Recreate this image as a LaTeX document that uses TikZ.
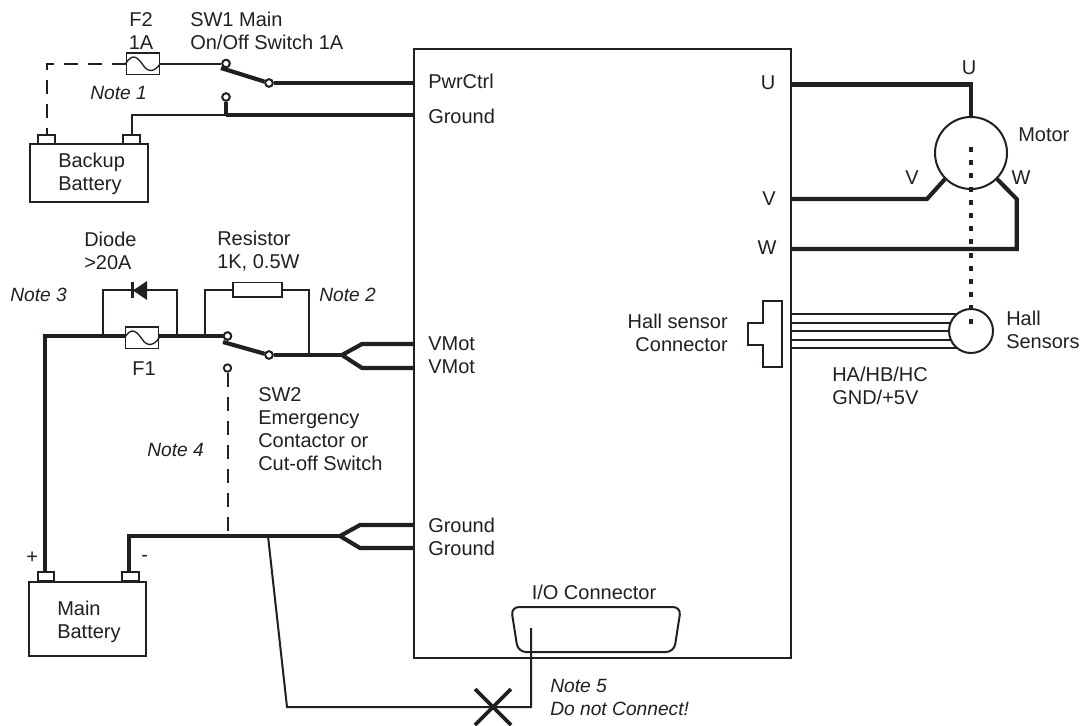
\documentclass[tikz,border=0pt]{standalone}
\usepackage{fontspec}
\setmainfont{Liberation Sans}
\definecolor{ink}{HTML}{231F20}
\tikzset{
  thinw/.style={draw=ink,line width=1.5pt},
  thickw/.style={draw=ink,line width=3.1pt,line join=miter},
  dashw/.style={draw=ink,line width=1.5pt,dash pattern=on 10.5pt off 7.5pt},
  boxs/.style={draw=ink,line width=1.5pt,fill=white,rectangle,inner sep=0pt},
  term/.style={boxs,minimum width=12.4pt,minimum height=7pt},
  fuse/.style={boxs,line width=1pt,minimum width=25pt,minimum height=16pt},
  pin/.style={circle,draw=ink,line width=1.4pt,fill=white,inner sep=0pt,minimum size=5.6pt},
  lbl/.style={font=\fontsize{15}{17.25}\selectfont,text=ink,inner sep=0pt,align=left,anchor=west},
  clbl/.style={lbl,anchor=center,align=center},
  rlbl/.style={lbl,anchor=east,align=right},
  nlbl/.style={lbl,font=\fontsize{14.4}{17.25}\selectfont\itshape}
}
\begin{document}
\begin{tikzpicture}[x=0.75pt,y=-0.75pt]
\useasboundingbox (0,0) rectangle (1080,725);
% main box
\node[boxs,fill=none,minimum width=282.75pt,minimum height=456.75pt] (main) at (602.5,353.5) {};
\coordinate (pwr) at (414,83);
\coordinate (gnd1) at (414,115);
\coordinate (vm1) at (414,344);
\coordinate (vm2) at (414,368);
\coordinate (gn1) at (414,525);
\coordinate (gn2) at (414,548);
\coordinate (ou) at (791,84.5);
\coordinate (ov) at (791,199);
\coordinate (ow) at (791,249);
% backup battery
\node[boxs,minimum width=88.5pt,minimum height=43.5pt] (bb) at (88.5,173) {};
\node[term] (bb1) at (46.5,139.5) {};
\node[term] (bb2) at (131.5,139.5) {};
\node[lbl] (bbt) at (58,173.5) {Backup\\Battery};
% F2 and SW1
\node[fuse] (f2) at (143,63.5) {};
\draw[draw=ink,line width=1pt] (f2.west) .. controls (133,52) and (138,58) .. (143,65) .. controls (148,73) and (155,72) .. (f2.east);
\node[pin] (s1a) at (226,63.5) {};
\node[pin] (s1b) at (269,83) {};
\node[pin] (s1c) at (226,97) {};
\coordinate (l1) at (221,68);
\coordinate (j1) at (226,115);
\draw[thinw] (f2.east) -- (s1a);
\draw[dashw] (f2.west) -| (bb1.north);
\draw[thickw] (l1) -- (s1b);
\draw[thickw] (s1b) -- (pwr);
\draw[thinw] (bb2.north) |- (j1);
\draw[thickw] (j1) -- (gnd1);
\draw[thickw] (j1) -- (s1c);
\node[pin] at (s1a) {};
\node[pin] at (s1b) {};
\node[pin] at (s1c) {};
\node[clbl] (tf2) at (141,31) {F2\\1A};
\node[lbl] (tsw1) at (190,31) {SW1 Main\\On/Off Switch 1A};
\node[nlbl] (tn1) at (90,93) {Note 1};
% F1, diode, resistor, SW2
\node[fuse] (f1) at (142,337.5) {};
\draw[draw=ink,line width=1pt] (f1.west) .. controls (132,326) and (137,332) .. (142,339) .. controls (147,347) and (154,346) .. (f1.east);
\node[pin] (s2a) at (227.5,336) {};
\node[pin] (s2b) at (269,355) {};
\node[pin] (s2c) at (227.5,368) {};
\coordinate (l2) at (223,342);
\coordinate (c1) at (45,336);
\coordinate (d1) at (103,336);
\coordinate (d2) at (177,336);
\coordinate (r1) at (205,336);
\coordinate (r2) at (309,355);
\coordinate (fk1) at (342,355);
\coordinate (fk1a) at (362,344);
\coordinate (fk1b) at (362,368);
\node[boxs,line width=1pt,minimum width=36.75pt,minimum height=11pt] (res) at (257.5,289.5) {};
\coordinate (dd) at (140,290);
\draw[thinw] (d1) |- (dd) -| (d2);
\draw[thinw] (r1) |- (res.west);
\draw[thinw] (res.east) -| (r2);
\fill[ink] (147,281) -- (147,300) -- (133,290.5) -- cycle;
\fill[ink] (130.5,282) rectangle (134,298);
\draw[thickw] (f1.east |- s2a) -- (s2a);
\draw[thickw] (l2) -- (s2b);
\draw[thickw] (s2b) -- (fk1);
\draw[thickw] (vm1) -- (fk1a) -- (fk1) -- (fk1b) -- (vm2);
\node[pin] at (s2a) {};
\node[pin] at (s2b) {};
\node[lbl] (td) at (84,251) {Diode\\>20A};
\node[lbl] (tr) at (217,251) {Resistor\\1K, 0.5W};
\node[nlbl] (tn2) at (319,295) {Note 2};
\node[nlbl] (tn3) at (10,295) {Note 3};
\node[nlbl] (tn4) at (147,450) {Note 4};
\node[clbl] (tf1) at (144,369) {F1};
\node[lbl] (tsw2) at (258,429) {SW2\\Emergency\\Contactor or\\Cut-off Switch};
% main battery
\node[boxs,minimum width=88pt,minimum height=55.5pt] (mb) at (87.5,619) {};
\node[term] (mb1) at (46,576.5) {};
\node[term] (mb2) at (130.5,576.5) {};
\node[lbl] (mbt) at (57,621.5) {Main\\Battery};
\coordinate (g0) at (129,536);
\coordinate (g1) at (340,536);
\coordinate (g1a) at (360,525);
\coordinate (g1b) at (360,548);
\coordinate (gd) at (227.5,536);
\coordinate (gt) at (268,536);
\draw[dashw] (s2c) -- (gd);
\draw[thickw] (c1 |- mb1.north) -- (c1) -- (f1.west |- c1);
\draw[thickw] (g0 |- mb2.north) -- (g0) -- (g1);
\draw[thickw] (gn1) -- (g1a) -- (g1) -- (g1b) -- (gn2);
\node[lbl] (tplus) at (26,558) {+};
\node[lbl] (tminus) at (141,558) {-};
\node[lbl] (tg1) at (428,525) {Ground};
\node[lbl] (tg2) at (428,548) {Ground};
\node[lbl] (tv1) at (428,344) {VMot};
\node[lbl] (tv2) at (428,367) {VMot};
\node[lbl] (tp) at (428,81) {PwrCtrl};
\node[lbl] (tg0) at (428,116) {Ground};
% I/O connector
\draw[thinw,rounded corners=6pt] (511,607) -- (681,607) -- (674,652) -- (518,652) -- cycle;
\coordinate (io) at (531,628);
\coordinate (wb) at (287,707);
\coordinate (wc) at (531,707);
\draw[thinw] (gt) -- (wb) -- (wc) -- (io);
\draw[draw=ink,line width=2.7pt] (475,689) -- (511,725) (511,689) -- (475,725);
\node[clbl] (tio) at (594,592) {I/O Connector};
\node[nlbl] (tn5) at (550,697) {Note 5\\Do not Connect!};
% motor
\node[circle,draw=ink,line width=1.5pt,fill=white,inner sep=0pt,minimum size=54pt] (mot) at (971,153) {};
\coordinate (hcen) at (971,331);
\coordinate (vc) at (927,199);
\coordinate (wc1) at (1016.7,249);
\coordinate (wc2) at (1016.7,199);
\draw[thickw] (ou) -| (mot.north);
\draw[thickw] (ov) -- (vc) -- (mot.225);
\draw[thickw] (ow) -- (wc1) -- (wc2) -- (mot.-45);
\foreach \yy/\nm in {314/a,322.7/b,331/c,340/d,348.3/e}{
  \coordinate (wire\nm) at (791,\yy);
  \draw[draw=ink,line width=1.5pt] (wire\nm) -- (hcen |- wire\nm);
}
\node[circle,draw=ink,line width=1.5pt,fill=white,inner sep=0pt,minimum size=33pt] (hall) at (hcen) {};
\draw[draw=ink,line width=3pt,dash pattern=on 3.75pt off 6.15pt] (mot.center |- 0,147) -- (hall.center);
\draw[draw=ink,line width=1.5pt,fill=white] (782,301) -- (763,301) -- (763,323) -- (748,323) -- (748,345) -- (763,345) -- (763,367) -- (782,367) -- cycle;
\node[clbl] (tu) at (768,83) {U};
\node[clbl] (tv) at (769,199) {V};
\node[clbl] (tw) at (767,248) {W};
\node[clbl] (tu2) at (969,68) {U};
\node[clbl] (tv3) at (912,178) {V};
\node[clbl] (tw3) at (1021,178) {W};
\node[lbl] (tm) at (1018,135) {Motor};
\node[rlbl] (ths) at (728,333) {Hall sensor\\Connector};
\node[lbl] (thl) at (1006,330) {Hall\\Sensors};
\node[lbl] (tha) at (832,386) {HA/HB/HC\\GND/+5V};
\end{tikzpicture}
\end{document}
